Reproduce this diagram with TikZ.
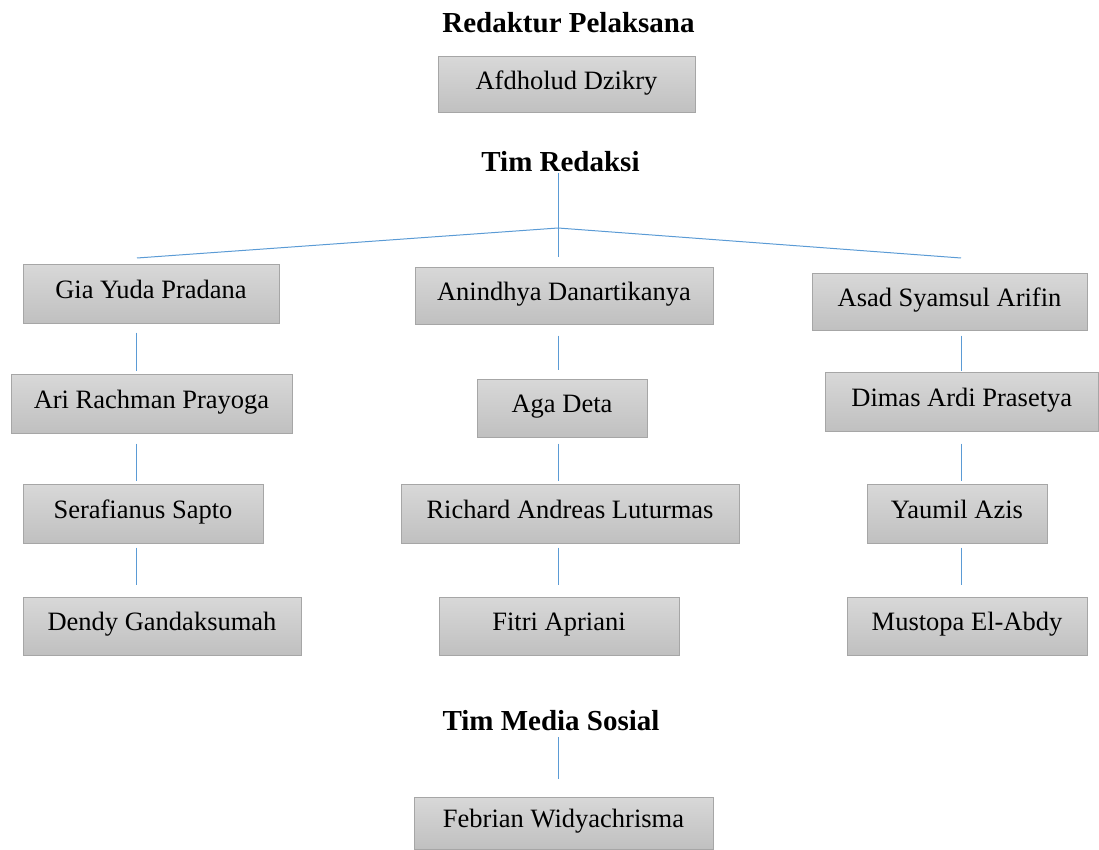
\documentclass[tikz,border=0pt]{standalone}
\usepackage{fontspec}
\setmainfont{Liberation Serif}
\definecolor{boxtop}{RGB}{216,216,216}
\definecolor{boxbot}{RGB}{192,192,192}
\definecolor{boxline}{RGB}{166,166,166}
\definecolor{connblue}{RGB}{91,155,213}
\tikzset{
  pbox/.style={draw=boxline, line width=1pt, top color=boxtop, bottom color=boxbot,
    inner sep=0pt, text height=15pt, text depth=6pt,
    font=\fontsize{26.5}{30}\selectfont},
  heading/.style={anchor=base, inner sep=0pt, font=\fontsize{29}{32}\selectfont\bfseries},
  conn/.style={draw=connblue, line width=1pt}
}
\newcommand\pbox[6]{\node[pbox, minimum width={#4-#2}, minimum height={#5-#3}] (#1) at ({(#2+#4)/2},{(#3+#5)/2}) {#6};}
\begin{document}
\begin{tikzpicture}[x=1pt,y=-1pt]
\useasboundingbox (0,0) rectangle (1099,850);
% headings
\node[heading] (redpel) at (568.5,33) {Redaktur Pelaksana};
\node[heading] (timred) at (560.5,172) {Tim Redaksi};
\node[heading] (timmed) at (551,730) {Tim Media Sosial};
% boxes
\pbox{afd}{438}{57}{695}{113}{Afdholud Dzikry}
\pbox{gia}{23}{264}{279}{323}{Gia Yuda Pradana}
\pbox{ari}{11}{374}{292}{433}{Ari Rachman Prayoga}
\pbox{sera}{23}{484}{263}{543}{Serafianus Sapto}
\pbox{dendy}{23}{597}{301}{655}{Dendy Gandaksumah}
\pbox{anin}{415}{267}{713}{324}{Anindhya Danartikanya}
\pbox{aga}{477}{379}{647}{437}{Aga Deta}
\pbox{rich}{401}{484}{739}{543}{Richard Andreas Luturmas}
\pbox{fitri}{439}{597}{679}{655}{Fitri Apriani}
\pbox{asad}{812}{273}{1087}{330}{Asad Syamsul Arifin}
\pbox{dimas}{825}{372}{1098.5}{431}{Dimas Ardi Prasetya}
\pbox{yaumil}{867}{484}{1047}{543}{Yaumil Azis}
\pbox{must}{847}{597}{1087}{655}{Mustopa El-Abdy}
\pbox{feb}{414}{797}{713}{849}{Febrian Widyachrisma}
% column guides
\coordinate (xL) at (136.5,0);
\coordinate (xM) at (558,0);
\coordinate (xR) at (961.5,0);
\coordinate (apex) at (558,228);
\coordinate (bl) at (137,258);
\coordinate (br) at (961,258);
% tim redaksi tree
\draw[conn, shorten <=1pt, shorten >=10pt] (timred.base -| xM) -- (anin.north -| xM);
\draw[conn] (apex) -- (bl);
\draw[conn] (apex) -- (br);
% left column
\draw[conn, shorten <=9pt, shorten >=3pt] (gia.south -| xL) -- (ari.north -| xL);
\draw[conn, shorten <=10pt, shorten >=3pt] (ari.south -| xL) -- (sera.north -| xL);
\draw[conn, shorten <=4pt, shorten >=12pt] (sera.south -| xL) -- (dendy.north -| xL);
% middle column
\draw[conn, shorten <=11pt, shorten >=9pt] (anin.south -| xM) -- (aga.north -| xM);
\draw[conn, shorten <=6pt, shorten >=3pt] (aga.south -| xM) -- (rich.north -| xM);
\draw[conn, shorten <=4pt, shorten >=12pt] (rich.south -| xM) -- (fitri.north -| xM);
% right column
\draw[conn, shorten <=5pt, shorten >=1pt] (asad.south -| xR) -- (dimas.north -| xR);
\draw[conn, shorten <=12pt, shorten >=3pt] (dimas.south -| xR) -- (yaumil.north -| xR);
\draw[conn, shorten <=4pt, shorten >=12pt] (yaumil.south -| xR) -- (must.north -| xR);
% media sosial
\draw[conn, shorten <=7pt, shorten >=18pt] (timmed.base -| xM) -- (feb.north -| xM);
\end{tikzpicture}
\end{document}
